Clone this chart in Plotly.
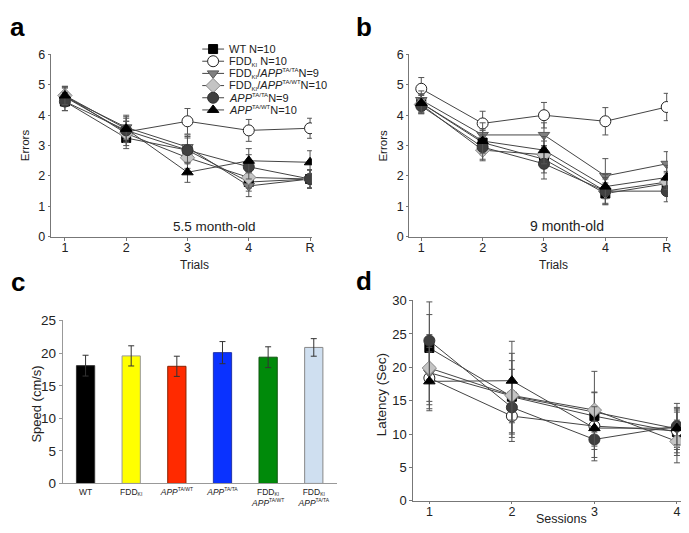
import plotly.graph_objects as go


def sub(t, px=6):
    return f"<sub><span style='font-size:{px}px'>{t}</span></sub>"


def sup(t, px=6):
    return f"<sup><span style='font-size:{px}px'>{t}</span></sup>"


# ---- data ----
trials = ["1", "2", "3", "4", "R"]
sessions = ["1", "2", "3", "4"]

group_names = [
    "WT N=10",
    f"FDD{sub('KI')} N=10",
    f"FDD{sub('KI')}/<i>APP</i>{sup('TA/TA')}N=9",
    f"FDD{sub('KI')}/<i>APP</i>{sup('TA/WT')}N=10",
    f"<i>APP</i>{sup('TA/TA')}N=9",
    f"<i>APP</i>{sup('TA/WT')}N=10",
]

# panel a: 5.5 month-old, errors per trial (mean, sem)
a_wt = [4.45, 3.25, 2.85, 1.80, 1.90]
a_wt_se = [0.30, 0.35, 0.40, 0.30, 0.30]
a_fdd = [4.60, 3.45, 3.80, 3.50, 3.57]
a_fdd_se = [0.30, 0.35, 0.42, 0.36, 0.33]
a_fdd_tata = [4.60, 3.60, 2.95, 1.67, 1.90]
a_fdd_tata_se = [0.30, 0.40, 0.40, 0.35, 0.30]
a_fdd_tawt = [4.65, 3.40, 2.60, 1.95, 1.90]
a_fdd_tawt_se = [0.30, 0.40, 0.35, 0.35, 0.30]
a_tata = [4.45, 3.50, 2.85, 2.30, 1.90]
a_tata_se = [0.30, 0.40, 0.45, 0.40, 0.30]
a_tawt = [4.65, 3.55, 2.12, 2.50, 2.45]
a_tawt_se = [0.30, 0.40, 0.33, 0.40, 0.38]

# panel b: 9 month-old
b_wt = [4.40, 3.10, 2.55, 1.42, 1.75]
b_wt_se = [0.30, 0.40, 0.45, 0.35, 0.35]
b_fdd = [4.87, 3.73, 4.00, 3.80, 4.27]
b_fdd_se = [0.37, 0.40, 0.42, 0.45, 0.45]
b_fdd_tata = [4.50, 3.35, 3.35, 2.00, 2.40]
b_fdd_tata_se = [0.30, 0.40, 0.40, 0.57, 0.40]
b_fdd_tawt = [4.35, 2.85, 2.70, 1.50, 1.80]
b_fdd_tawt_se = [0.30, 0.35, 0.45, 0.40, 0.35]
b_tata = [4.30, 2.95, 2.40, 1.50, 1.50]
b_tata_se = [0.25, 0.40, 0.50, 0.45, 0.35]
b_tawt = [4.40, 3.15, 2.85, 1.65, 1.95]
b_tawt_se = [0.30, 0.40, 0.45, 0.40, 0.40]

# panel c: swim speed
speed_groups = [
    "WT",
    f"FDD{sub('KI', 5)}",
    f"<i>APP</i>{sup('TA/WT', 5)}",
    f"<i>APP</i>{sup('TA/TA', 5)}",
    f"FDD{sub('KI', 5)}<br><i>APP</i>{sup('TA/WT', 5)}",
    f"FDD{sub('KI', 5)}<br><i>APP</i>{sup('TA/TA', 5)}",
]
speed = [18.1, 19.6, 18.0, 20.1, 19.4, 20.9]
speed_se = [1.6, 1.55, 1.55, 1.7, 1.6, 1.35]
bar_colors = ["#000000", "#ffff00", "#ff2a00", "#0a32ff", "#008a0a", "#cfdff0"]
bar_edges = ["#333333", "#999999", "#882200", "#2233aa", "#115511", "#888888"]

# panel d: latency per session
d_wt = [22.9, 15.6, 12.7, 10.3]
d_wt_se = [5.0, 5.4, 6.7, 3.5]
d_fdd = [18.4, 12.7, 11.2, 10.5]
d_fdd_se = [4.6, 3.8, 3.0, 2.8]
d_fdd_tata = [19.2, 15.7, 13.3, 10.8]
d_fdd_tata_se = [4.8, 4.0, 3.0, 2.8]
d_fdd_tawt = [19.9, 15.8, 13.6, 8.9]
d_fdd_tawt_se = [5.0, 6.3, 2.6, 3.2]
d_tata = [24.0, 14.0, 9.2, 11.2]
d_tata_se = [5.8, 4.0, 2.7, 2.8]
d_tawt = [17.9, 18.0, 10.9, 10.9]
d_tawt_se = [4.4, 5.9, 3.2, 3.7]

# marker styles for the six groups
symbols = ["square", "circle", "triangle-down", "diamond", "circle", "triangle-up"]
fills = ["#000000", "#ffffff", "#808080", "#c4c4c4", "#404040", "#000000"]
edges = ["#000000", "#222222", "#5a5a5a", "#8a8a8a", "#333333", "#000000"]
sizes = [9, 11, 10, 11, 11, 10]

FONT = "Liberation Sans, Arial, Helvetica, sans-serif"
LINE = "#444444"
AXIS = "#777777"
TXT = "#222222"
W, H = 689, 533

fig = go.Figure()


def add_lines(xs, series, errs, xa, ya):
    for i, (ys, es) in enumerate(zip(series, errs)):
        fig.add_trace(go.Scatter(
            x=xs, y=ys, xaxis=xa, yaxis=ya, mode="lines+markers",
            line=dict(color=LINE, width=1),
            marker=dict(symbol=symbols[i], color=fills[i], size=sizes[i],
                        line=dict(color=edges[i], width=1)),
            error_y=dict(type="data", array=es, color="#555555",
                         thickness=1, width=3),
            showlegend=False, hoverinfo="skip",
        ))


x_trials = list(range(1, len(trials) + 1))
x_sessions = list(range(1, len(sessions) + 1))

add_lines(x_trials, [a_wt, a_fdd, a_fdd_tata, a_fdd_tawt, a_tata, a_tawt],
          [a_wt_se, a_fdd_se, a_fdd_tata_se, a_fdd_tawt_se, a_tata_se, a_tawt_se],
          "x", "y")
add_lines(x_trials, [b_wt, b_fdd, b_fdd_tata, b_fdd_tawt, b_tata, b_tawt],
          [b_wt_se, b_fdd_se, b_fdd_tata_se, b_fdd_tawt_se, b_tata_se, b_tawt_se],
          "x2", "y2")
add_lines(x_sessions, [d_wt, d_fdd, d_fdd_tata, d_fdd_tawt, d_tata, d_tawt],
          [d_wt_se, d_fdd_se, d_fdd_tata_se, d_fdd_tawt_se, d_tata_se, d_tawt_se],
          "x4", "y4")

fig.add_trace(go.Bar(
    x=list(range(len(speed))), y=speed, xaxis="x3", yaxis="y3", width=0.4,
    marker=dict(color=bar_colors, line=dict(color=bar_edges, width=1)),
    error_y=dict(type="data", array=speed_se, color="#333333", thickness=1, width=3),
    showlegend=False, hoverinfo="skip",
))

# hand-made compact legend in its own little axis
rows = list(range(len(group_names)))
for i in rows:
    fig.add_trace(go.Scatter(
        x=[0, 22], y=[i, i], xaxis="x5", yaxis="y5", mode="lines",
        line=dict(color=LINE, width=1), showlegend=False, hoverinfo="skip"))
    fig.add_trace(go.Scatter(
        x=[11], y=[i], xaxis="x5", yaxis="y5", mode="markers",
        marker=dict(symbol=symbols[i], color=fills[i], size=sizes[i],
                    line=dict(color=edges[i], width=1)),
        showlegend=False, hoverinfo="skip"))
    fig.add_annotation(x=26, y=i, xref="x5", yref="y5", text=group_names[i],
                       showarrow=False, xanchor="left", yanchor="middle",
                       borderpad=0, font=dict(size=11, color=TXT))

base_axis = dict(showline=True, linecolor=AXIS, linewidth=1, showgrid=False,
                 zeroline=False, tickfont=dict(size=12.5, color=TXT),
                 ticklen=3, tickcolor=AXIS, ticks="outside")

fig.update_layout(
    width=W, height=H, margin=dict(l=0, r=0, t=0, b=0),
    plot_bgcolor="white", paper_bgcolor="white",
    font=dict(family=FONT, color=TXT),
    xaxis=dict(base_axis, anchor="y", domain=[0.0624, 0.443], range=[0.77, 5.03],
               tickvals=x_trials, ticktext=trials, ticklabelstandoff=-4),
    yaxis=dict(base_axis, anchor="x", domain=[0.572, 0.925], range=[0, 6.02],
               tickvals=[0, 1, 2, 3, 4, 5, 6], ticklen=2),
    xaxis2=dict(base_axis, anchor="y2", domain=[0.585, 0.962], range=[0.805, 5.02],
                tickvals=x_trials, ticktext=trials, ticklabelstandoff=-4),
    yaxis2=dict(base_axis, anchor="x2", domain=[0.572, 0.925], range=[0, 6.02],
                tickvals=[0, 1, 2, 3, 4, 5, 6], ticklen=2),
    xaxis3=dict(base_axis, anchor="y3", domain=[0.0798, 0.479], range=[-0.5, 5.5],
                tickvals=list(range(len(speed_groups))), ticktext=speed_groups,
                tickfont=dict(size=8.5, color=TXT), ticks="",
                linecolor="#999999"),
    yaxis3=dict(base_axis, anchor="x3", domain=[0.0957, 0.411], range=[0, 25.1],
                tickvals=[0, 5, 10, 15, 20, 25],
                tickfont=dict(size=13.5, color=TXT), linecolor="#999999",
                tickcolor="#999999"),
    xaxis4=dict(base_axis, anchor="y4", domain=[0.591, 0.994], range=[0.807, 4.157],
                tickvals=x_sessions, ticktext=sessions, ticklen=2,
                ticklabelstandoff=-3),
    yaxis4=dict(base_axis, anchor="x4", domain=[0.062, 0.450], range=[0, 30.1],
                tickvals=[0, 5, 10, 15, 20, 25, 30],
                tickfont=dict(size=13, color=TXT)),
    xaxis5=dict(anchor="y5", domain=[0.283, 0.479], range=[0, 135], visible=False),
    yaxis5=dict(anchor="x5", domain=[0.805, 0.946], range=[5.5, -0.5], visible=False),
)

fig.add_annotation(x=3.44, y=0.35, xref="x", yref="y", text="5.5 month-old",
                   showarrow=False, font=dict(size=13.5))
fig.add_annotation(x=3.38, y=0.35, xref="x2", yref="y2", text="9 month-old",
                   showarrow=False, font=dict(size=14))

# axis titles, placed in pixels like the original figure
titles = [
    ("Trials", 187, 257, 0, 12),
    ("Trials", 548, 257, 0, 12),
    ("Sessions", 556, 519, 0, 12.5),
    ("Errors", 17, 134, -90, 11.5),
    ("Errors", 377, 134, -90, 11.5),
    ("Speed (cm/s)", 29, 400, -90, 13),
    ("Latency (Sec)", 376, 391, -90, 13.5),
]
for text, px_x, px_y, ang, fs in titles:
    fig.add_annotation(x=px_x / W, y=1 - px_y / H, xref="paper", yref="paper",
                       text=text, textangle=ang, showarrow=False,
                       xanchor="center", yanchor="middle",
                       font=dict(size=fs, color=TXT))

for lab, px_x, px_y in [("a", 10, 12), ("b", 358, 12), ("c", 10, 275), ("d", 358, 274)]:
    fig.add_annotation(x=px_x / W, y=1 - px_y / H, xref="paper", yref="paper",
                       text=f"<b>{lab}</b>", showarrow=False,
                       xanchor="center", yanchor="middle",
                       font=dict(size=26, color="#000000"))

fig.write_html("out.html")
